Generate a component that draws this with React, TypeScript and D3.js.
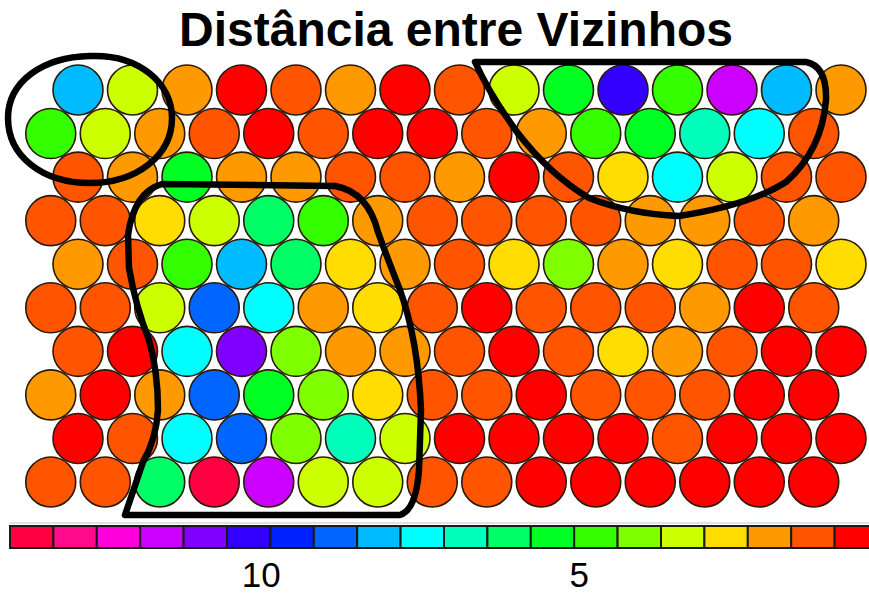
import React from "react";
import * as d3 from "d3";

const W = 869;
const H = 595;
const TITLE = "Distância entre Vizinhos";

// Neighbour distance (U-matrix) for each neuron, 10 rows x 15 columns, top to bottom
const row01 = [8.1, 3.4, 2.0, 0.6, 1.3, 2.0, 0.6, 1.3, 3.4, 5.4, 10.2, 4.7, 11.6, 8.1, 2.0];
const row02 = [4.7, 3.4, 2.0, 1.3, 0.6, 1.3, 0.6, 0.6, 1.3, 2.0, 4.7, 5.4, 6.8, 7.5, 1.3];
const row03 = [1.3, 2.0, 5.4, 2.0, 2.0, 1.3, 1.3, 2.0, 0.6, 1.3, 2.7, 7.5, 3.4, 1.3, 1.3];
const row04 = [1.3, 1.3, 2.7, 3.4, 6.1, 4.7, 2.0, 1.3, 1.3, 1.3, 1.3, 2.0, 2.0, 1.3, 2.0];
const row05 = [2.0, 1.3, 4.7, 8.1, 6.1, 2.7, 2.0, 1.3, 2.7, 4.0, 2.0, 2.7, 1.3, 1.3, 2.7];
const row06 = [1.3, 1.3, 3.4, 8.8, 7.5, 2.0, 2.7, 1.3, 0.6, 1.3, 1.3, 1.3, 2.0, 0.6, 1.3];
const row07 = [1.3, 0.6, 7.5, 10.9, 4.0, 2.0, 2.0, 1.3, 0.6, 1.3, 2.7, 2.0, 1.3, 0.6, 0.6];
const row08 = [2.0, 0.6, 2.0, 8.8, 5.4, 4.0, 2.7, 1.3, 1.3, 0.6, 1.3, 1.3, 1.3, 0.6, 0.6];
const row09 = [0.6, 1.3, 7.5, 8.8, 4.0, 6.8, 3.4, 0.6, 0.6, 0.6, 0.6, 1.3, 0.6, 0.6, 0.6];
const row10 = [1.3, 1.3, 6.1, 13.6, 11.6, 3.4, 3.4, 1.3, 1.3, 0.6, 0.6, 0.6, 0.6, 0.6, 0.6];
const ROWS = [row01, row02, row03, row04, row05, row06, row07, row08, row09, row10];

// Colour scale, low distance (red) to high distance (crimson)
const COLORS_LOW_TO_HIGH = [
  "#ff0000", "#ff5500", "#ff9900", "#ffdd00", "#ccff00",
  "#80ff00", "#33ff00", "#00ff22", "#00ff66", "#00ffbb",
  "#00ffff", "#00bbff", "#0066ff", "#0022ff", "#3300ff",
  "#8000ff", "#cc00ff", "#ff00dd", "#ff0a8a", "#ff0040",
];
const DIST_MIN = 0.3;
const DIST_MAX = 13.95;
const COLORBAR_TICKS = [10, 5];

// Hand-drawn cluster annotations (pixel paths)
const ANNOTATIONS = [
  "M 90 56 C 140 54 172 84 172 118 C 172 156 136 183 90 183 C 42 183 8 156 8 118 C 8 82 42 57 90 56 Z",
  "M 125 515 L 400 515 Q 416 510 419 470 L 421 410 Q 418 340 400 290 Q 385 252 378 232 Q 368 192 335 186 L 162 184 Q 134 192 128 235 L 129 268 Q 136 308 149 340 Q 158 372 158 410 Q 156 440 143 462 Z",
  "M 475 62 L 806 62 Q 827 66 826 100 Q 822 150 786 182 Q 750 205 679 216 Q 630 214 589 198 Q 550 175 517 132 Q 490 95 475 62 Z",
];

export default function App() {
  const nCols = row01.length;
  const nRows = ROWS.length;
  const xCol = d3.scaleLinear().domain([0, nCols - 1]).range([78, 841]);
  const colStep = xCol(1) - xCol(0);
  const yRow = d3.scaleLinear().domain([0, nRows - 1]).range([90, 482]);
  const color = d3.scaleQuantize<string>().domain([DIST_MIN, DIST_MAX]).range(COLORS_LOW_TO_HIGH);

  const cells: { x: number; y: number; v: number; key: string }[] = [];
  ROWS.forEach((row, r) => {
    row.forEach((v, c) => {
      const x = xCol(c) - (r % 2 === 1 ? colStep / 2 : 0);
      cells.push({ x, y: yRow(r), v, key: `${r}-${c}` });
    });
  });

  // Colorbar
  const xBar = d3.scaleLinear().domain([DIST_MAX, DIST_MIN]).range([10, 878]);
  const nBins = COLORS_LOW_TO_HIGH.length;
  const binW = (DIST_MAX - DIST_MIN) / nBins;
  const bins = d3.range(nBins).map((i) => {
    const hi = DIST_MAX - i * binW;
    const lo = hi - binW;
    return { hi, lo, c: color((hi + lo) / 2) };
  });

  return (
    <svg
      width={W}
      height={H}
      style={{ position: "absolute", left: 0, top: 0, background: "#fff" }}
      fontFamily="'Liberation Sans', Arial, sans-serif"
    >
      <text x={456} y={46} textAnchor="middle" fontSize={48} fontWeight="bold" fill="#000">
        {TITLE}
      </text>
      <g>
        {cells.map((d) => (
          <circle key={d.key} cx={d.x} cy={d.y} r={25} fill={color(d.v)} stroke="#2a1a0a" strokeWidth={1.6} />
        ))}
      </g>
      <g fill="none" stroke="#000" strokeWidth={6.5} strokeLinejoin="round">
        {ANNOTATIONS.map((p, i) => (
          <path key={i} d={p} />
        ))}
      </g>
      <line x1={10} x2={W} y1={523} y2={523} stroke="#c4c4cc" strokeWidth={1.2} />
      <g>
        {bins.map((b, i) => (
          <rect
            key={i}
            x={xBar(b.hi)}
            y={526}
            width={xBar(b.lo) - xBar(b.hi)}
            height={22}
            fill={b.c}
            stroke="#1a1a1a"
            strokeWidth={2}
          />
        ))}
      </g>
      <g>
        {COLORBAR_TICKS.map((t) => (
          <text key={t} x={xBar(t)} y={587} textAnchor="middle" fontSize={35} fill="#000">
            {t}
          </text>
        ))}
      </g>
    </svg>
  );
}
